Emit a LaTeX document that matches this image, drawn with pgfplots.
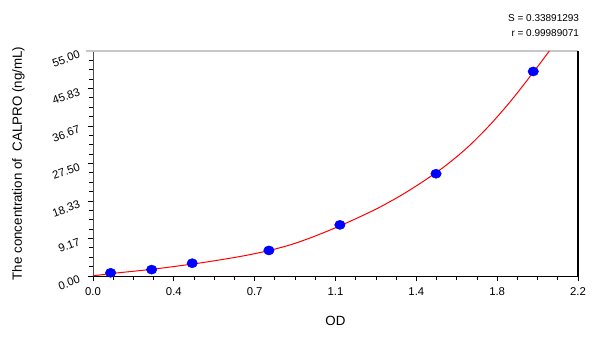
\documentclass[border=0pt]{standalone}
\usepackage{pgfplots}
\pgfplotsset{compat=1.18}
\usepackage{fontspec}
\setmainfont{Liberation Sans}
\definecolor{ptblue}{RGB}{0,0,255}
\definecolor{fitred}{RGB}{255,0,0}
\begin{document}
\begin{tikzpicture}
\path[use as bounding box] (-69.75pt,-45.75pt) rectangle ++(450pt,252.75pt);
\begin{axis}[
  at={(0,0)}, anchor=south west,
  scale only axis, width=363.75pt, height=168.75pt,
  xmin=0, xmax=2.2, ymin=0, ymax=55,
  axis x line*=bottom, axis y line*=left,
  x axis line style={black, line width=0.6pt, -},
  y axis line style={black!70, line width=0.6pt, -},
  xtick={0,0.36667,0.73333,1.1,1.46667,1.83333,2.2},
  xticklabels={0.0,0.4,0.7,1.1,1.4,1.8,2.2},
  ytick={0,9.16667,18.33333,27.5,36.66667,45.83333,55},
  yticklabels={0.00,9.17,18.33,27.50,36.67,45.83,55.00},
  minor xtick={0.09167,0.18333,0.275,0.45833,0.55,0.64167,0.825,0.91667,1.00833,1.19167,1.28333,1.375,1.55833,1.65,1.74167,1.925,2.01667,2.10833},
  minor ytick={2.29167,4.58333,6.875,11.45833,13.75,16.04167,20.625,22.91667,25.20833,29.79167,32.08333,34.375,38.95833,41.25,43.54167,48.125,50.41667,52.70833},
  tick align=outside,
  major tick length=4pt, minor tick length=2.8pt,
  tick style={black, line width=0.6pt},
  minor tick style={black, line width=0.6pt},
  /pgf/number format/assume math mode=true,
  tick label style={font=\fontsize{8.5}{10}\selectfont},
  yticklabel style={rotate=20, anchor=east, xshift=-3pt},
  xticklabel style={yshift=-1pt},
  xlabel={OD},
  ylabel={The concentration of \ CALPRO (ng/mL)},
  label style={font=\fontsize{10}{12}\selectfont},
  xlabel style={at={(axis description cs:0.5,-0.2)}, anchor=center},
  ylabel style={at={(axis description cs:-0.154,0.5)}, anchor=center},
  clip=false,
]
\draw[black!22, line width=0.8pt] (rel axis cs:0,1) ++(-5pt,0) -- (rel axis cs:1,1);
\draw[black, line width=0.8pt] (rel axis cs:1,0) -- (rel axis cs:1,1);
\addplot[only marks, mark=*, color=ptblue, mark size=3.4pt, mark options={xscale=1.15, draw=ptblue, fill=ptblue}]
  coordinates {
  (0.080,0.78125)
  (0.266,1.5625)
  (0.450,3.125)
  (0.798,6.25)
  (1.120,12.5)
  (1.556,25.0)
  (1.997,50.0)
  };
\addplot[color=fitred, line width=0.75pt, smooth, no marks]
  coordinates {
  (0.00,0.05)
  (0.10,0.70)
  (0.20,1.25)
  (0.30,1.85)
  (0.40,2.55)
  (0.50,3.30)
  (0.60,4.15)
  (0.70,5.10)
  (0.80,6.25)
  (0.90,7.70)
  (1.00,9.60)
  (1.10,11.80)
  (1.20,14.20)
  (1.30,16.80)
  (1.40,19.80)
  (1.50,23.20)
  (1.60,27.00)
  (1.70,31.50)
  (1.80,36.90)
  (1.90,43.10)
  (2.00,50.00)
  (2.07,55.00)
  };
\node[anchor=east, font=\fontsize{7.5}{9}\selectfont, inner sep=0pt] at ([yshift=24.75pt,xshift=1pt]rel axis cs:1,1) {S = 0.33891293};
\node[anchor=east, font=\fontsize{7.5}{9}\selectfont, inner sep=0pt] at ([yshift=13.5pt,xshift=1pt]rel axis cs:1,1) {r = 0.99989071};
\end{axis}
\end{tikzpicture}
\end{document}
